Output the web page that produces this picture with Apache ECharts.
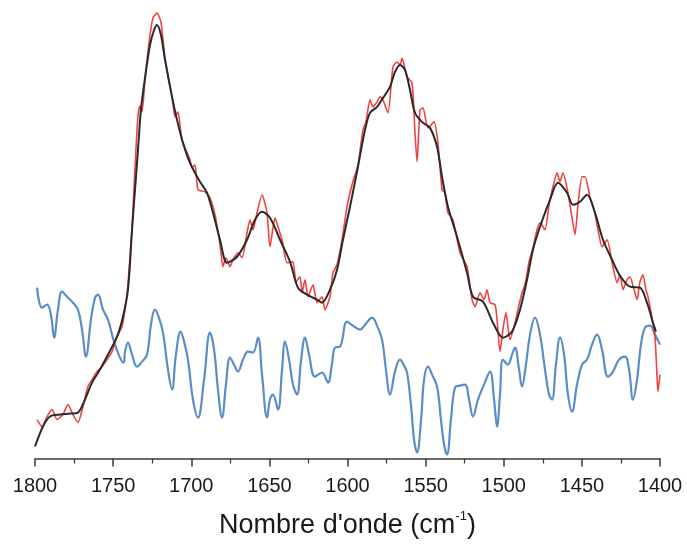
<!DOCTYPE html>
<html>
<head>
<meta charset="utf-8">
<title>Spectre</title>
<script src="https://cdn.jsdelivr.net/npm/echarts@6/dist/echarts.min.js"></script>
<style>
  html, body { margin: 0; padding: 0; background: #fff; }
  #chart { width: 687px; height: 544px; }
</style>
</head>
<body>
<div id="chart"></div>
<script>
// nombre d'onde (cm-1) et intensite (unites arbitraires)
const fitWn = [1800.0, 1794.9, 1790.4, 1784.0, 1777.6, 1772.5, 1768.0, 1763.5, 1758.4, 1753.3, 1747.5, 1743.7, 1740.5, 1737.9, 1736.0, 1734.1, 1732.2, 1729.6, 1726.4, 1723.8, 1721.9, 1719.4, 1716.8, 1712.3, 1709.1, 1705.3, 1700.8, 1694.4, 1689.9, 1686.1, 1681.6, 1677.1, 1670.7, 1664.3, 1659.2, 1654.7, 1649.6, 1643.2, 1636.8, 1631.7, 1625.9, 1619.5, 1616.3, 1611.2, 1606.7, 1602.9, 1598.4, 1593.3, 1588.8, 1585.6, 1581.1, 1577.3, 1572.8, 1569.6, 1566.4, 1563.2, 1560.0, 1556.8, 1552.3, 1547.2, 1542.7, 1539.5, 1535.7, 1529.9, 1523.5, 1519.7, 1513.3, 1506.9, 1500.5, 1494.7, 1489.6, 1485.1, 1481.3, 1476.8, 1470.4, 1465.3, 1459.5, 1455.7, 1451.2, 1446.7, 1441.6, 1436.5, 1430.7, 1425.6, 1419.2, 1412.8, 1408.3, 1404.5, 1402.6];
const fitVal = [12, 32, 42, 44, 45, 46, 59, 76, 89, 104, 122, 142, 169, 229, 269, 309, 349, 381, 414, 429, 434, 424, 399, 362, 339, 316, 296, 277, 266, 246, 219, 196, 202, 219, 239, 247, 241, 219, 197, 171, 164, 159, 156, 169, 189, 219, 252, 292, 329, 346, 352, 361, 372, 387, 394, 389, 369, 346, 337, 331, 312, 282, 252, 222, 186, 162, 157, 136, 121, 127, 149, 179, 209, 232, 259, 276, 266, 254, 257, 264, 246, 219, 199, 183, 172, 171, 156, 136, 127];

const rawWn = [1798.7, 1795.5, 1792.3, 1789.1, 1785.9, 1782.1, 1778.9, 1775.7, 1772.5, 1769.3, 1766.1, 1763.5, 1760.3, 1757.1, 1753.9, 1750.7, 1747.5, 1744.3, 1742.4, 1740.5, 1737.9, 1736.6, 1735.3, 1734.1, 1732.8, 1731.5, 1729.6, 1726.4, 1724.5, 1721.9, 1719.4, 1716.8, 1712.3, 1710.4, 1708.5, 1705.9, 1700.8, 1699.5, 1697.6, 1695.7, 1691.2, 1688.0, 1684.8, 1681.6, 1679.7, 1677.8, 1675.2, 1673.3, 1670.1, 1667.5, 1664.3, 1662.4, 1660.5, 1657.9, 1654.7, 1651.5, 1649.6, 1646.4, 1644.5, 1641.9, 1638.7, 1634.9, 1633.0, 1630.4, 1629.1, 1627.2, 1625.3, 1622.1, 1619.5, 1616.3, 1614.4, 1611.2, 1609.3, 1606.7, 1603.5, 1600.3, 1597.1, 1593.3, 1590.1, 1588.2, 1585.6, 1583.7, 1581.1, 1579.2, 1577.3, 1574.1, 1570.9, 1568.3, 1566.4, 1565.1, 1561.9, 1558.7, 1556.8, 1555.5, 1553.6, 1551.7, 1548.5, 1544.6, 1542.1, 1539.5, 1537.6, 1535.7, 1532.5, 1528.0, 1523.5, 1520.3, 1518.4, 1515.2, 1512.6, 1510.7, 1508.8, 1505.6, 1504.3, 1502.4, 1500.5, 1498.6, 1496.0, 1492.8, 1490.2, 1488.3, 1486.4, 1483.8, 1481.3, 1478.7, 1476.8, 1473.6, 1471.0, 1468.5, 1465.9, 1464.0, 1462.1, 1458.9, 1456.3, 1454.4, 1452.5, 1449.9, 1448.0, 1444.8, 1442.2, 1439.7, 1437.1, 1433.9, 1430.1, 1427.5, 1425.6, 1423.7, 1421.1, 1419.2, 1416.6, 1414.7, 1412.8, 1410.9, 1409.0, 1407.7, 1405.1, 1403.2, 1401.9, 1401.3, 1400.0];
const rawVal = [39, 32, 42, 49, 39, 44, 54, 44, 36, 52, 72, 79, 87, 92, 99, 107, 122, 132, 149, 174, 231, 272, 312, 343, 353, 347, 379, 424, 441, 446, 437, 401, 362, 342, 347, 319, 299, 291, 294, 269, 267, 261, 244, 214, 192, 201, 192, 199, 206, 201, 226, 239, 229, 246, 264, 246, 212, 241, 232, 219, 196, 197, 177, 182, 166, 179, 162, 174, 156, 162, 149, 162, 186, 194, 219, 252, 274, 294, 329, 337, 359, 352, 357, 362, 359, 346, 392, 397, 394, 401, 382, 376, 326, 297, 349, 351, 331, 337, 316, 269, 266, 246, 239, 206, 192, 159, 152, 166, 159, 169, 156, 154, 139, 107, 129, 146, 119, 136, 154, 166, 174, 197, 211, 229, 236, 229, 254, 272, 286, 277, 286, 266, 241, 224, 254, 282, 282, 262, 249, 229, 212, 219, 192, 176, 184, 169, 179, 182, 169, 159, 177, 184, 169, 162, 141, 122, 82, 67, 84];

const diffWn = [1798.7, 1795.5, 1792.3, 1789.8, 1787.8, 1785.3, 1782.7, 1779.5, 1775.7, 1772.5, 1769.9, 1767.4, 1764.2, 1761.6, 1759.7, 1756.5, 1753.3, 1748.8, 1743.3, 1742.4, 1740.5, 1737.9, 1734.7, 1731.5, 1728.3, 1725.8, 1723.2, 1720.7, 1718.1, 1714.9, 1712.3, 1709.8, 1706.8, 1704.6, 1702.1, 1698.9, 1695.7, 1691.8, 1688.0, 1685.4, 1682.9, 1680.3, 1677.8, 1675.2, 1672.6, 1670.1, 1666.9, 1663.7, 1660.5, 1657.3, 1654.7, 1651.5, 1649.6, 1647.7, 1644.5, 1641.9, 1640.0, 1637.4, 1634.9, 1632.3, 1629.8, 1627.2, 1624.6, 1620.8, 1616.3, 1612.5, 1610.0, 1608.0, 1604.8, 1600.3, 1596.5, 1592.0, 1588.2, 1584.3, 1581.1, 1577.9, 1575.4, 1572.8, 1569.6, 1566.4, 1563.8, 1561.9, 1559.4, 1557.4, 1555.5, 1552.9, 1551.0, 1548.5, 1545.9, 1542.7, 1540.2, 1538.2, 1536.3, 1533.8, 1531.2, 1528.0, 1524.8, 1522.2, 1519.7, 1516.5, 1512.6, 1508.8, 1506.2, 1504.3, 1502.4, 1500.5, 1497.3, 1494.7, 1492.8, 1490.2, 1488.3, 1485.8, 1483.2, 1480.0, 1476.8, 1473.6, 1471.0, 1469.1, 1466.6, 1464.0, 1461.4, 1458.9, 1456.3, 1453.1, 1449.9, 1446.7, 1443.5, 1440.3, 1437.1, 1433.3, 1430.1, 1426.2, 1422.4, 1419.8, 1417.3, 1414.7, 1412.2, 1409.6, 1406.4, 1403.2, 1400.0];
const diffVal = [171, 151, 154, 144, 121, 149, 167, 162, 156, 149, 129, 102, 139, 161, 164, 149, 139, 114, 96, 107, 116, 104, 92, 97, 104, 134, 149, 141, 126, 89, 69, 104, 127, 117, 99, 59, 41, 79, 126, 109, 69, 41, 74, 101, 94, 87, 99, 107, 106, 121, 84, 41, 59, 64, 49, 89, 117, 99, 74, 64, 97, 121, 104, 82, 86, 76, 94, 111, 112, 137, 133, 129, 135, 141, 133, 119, 89, 64, 87, 99, 93, 86, 54, 19, 6, 39, 79, 92, 84, 72, 39, 14, 4, 39, 71, 73, 74, 59, 42, 59, 74, 87, 59, 32, 64, 99, 94, 104, 111, 89, 72, 94, 124, 141, 124, 89, 64, 59, 94, 121, 104, 64, 47, 74, 94, 99, 114, 124, 109, 82, 87, 99, 102, 89, 59, 79, 114, 131, 133, 124, 114];

const xTicks = [1800, 1750, 1700, 1650, 1600, 1550, 1500, 1450, 1400];

const pairs = (xs, ys) => xs.map((x, i) => [x, ys[i]]);
const font = "'Liberation Sans', Arial, sans-serif";

const chart = echarts.init(document.getElementById('chart'));

const option = {
  backgroundColor: '#ffffff',
  animation: false,
  grid: { left: 35, right: 27, top: 0, bottom: 85 },
  xAxis: {
    type: 'value',
    inverse: true,
    min: xTicks[xTicks.length - 1],
    max: xTicks[0],
    interval: 50,
    axisLine: { show: true, onZero: false, lineStyle: { color: '#3a3a3a', width: 1.5 } },
    axisTick: { show: true, inside: false, length: 8, lineStyle: { color: '#3a3a3a', width: 1.5 } },
    minorTick: { show: true, splitNumber: 2, length: 5, lineStyle: { color: '#3a3a3a', width: 1.2 } },
    splitLine: { show: false },
    axisLabel: {
      color: '#1a1a1a', fontSize: 20, fontFamily: font, margin: 18,
      formatter: v => String(v)
    },
    name: "{a|Nombre d'onde (cm}{s|-1}{a|)}",
    nameLocation: 'middle',
    nameGap: 51,
    nameTextStyle: {
      rich: {
        a: { fontSize: 27, fontFamily: font, color: '#1a1a1a', lineHeight: 32 },
        s: { fontSize: 13, fontFamily: font, color: '#1a1a1a', verticalAlign: 'top', lineHeight: 18 }
      }
    }
  },
  yAxis: {
    type: 'value',
    min: 0,
    max: 459,
    show: false
  },
  series: [
    {
      name: 'difference',
      type: 'line',
      data: pairs(diffWn, diffVal),
      showSymbol: false,
      smooth: 0.4,
      lineStyle: { color: '#5b8dc8', width: 2.2 },
      z: 1
    },
    {
      name: 'spectre',
      type: 'line',
      data: pairs(rawWn, rawVal),
      showSymbol: false,
      smooth: 0.2,
      lineStyle: { color: '#ef2d2d', width: 1.6, opacity: 0.9 },
      z: 2
    },
    {
      name: 'lissage',
      type: 'line',
      data: pairs(fitWn, fitVal),
      showSymbol: false,
      smooth: 0.3,
      lineStyle: { color: '#2a2a2a', width: 2 },
      z: 3
    }
  ]
};

chart.setOption(option);
</script>
</body>
</html>
